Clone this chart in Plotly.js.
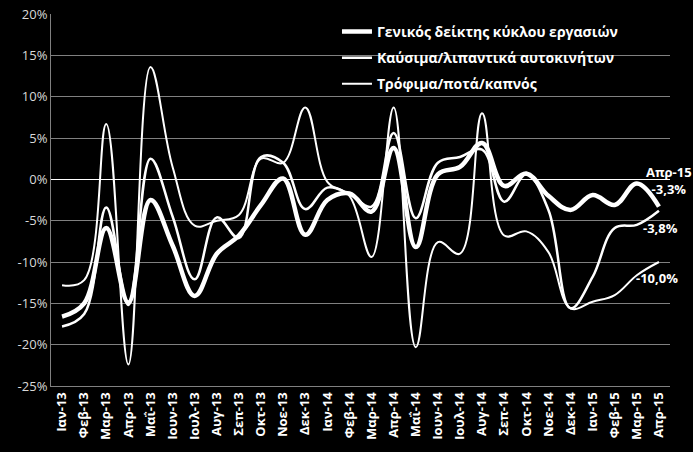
<!DOCTYPE html>
<html>
<head>
<meta charset="utf-8">
<script src="https://cdn.plot.ly/plotly-3.0.1.min.js"></script>
<style>html,body{margin:0;padding:0;background:#000;}#chart{width:693px;height:452px;}</style>
</head>
<body>
<div id="chart"></div>
<script>
const categories = ['Ιαν-13','Φεβ-13','Μαρ-13','Απρ-13','Μαΐ-13','Ιουν-13','Ιουλ-13','Αυγ-13','Σεπ-13','Οκτ-13','Νοε-13','Δεκ-13',
  'Ιαν-14','Φεβ-14','Μαρ-14','Απρ-14','Μαΐ-14','Ιουν-14','Ιουλ-14','Αυγ-14','Σεπ-14','Οκτ-14','Νοε-14','Δεκ-14',
  'Ιαν-15','Φεβ-15','Μαρ-15','Απρ-15'];
const seriesNames = ['Γενικός δείκτης κύκλου εργασιών','Καύσιμα/λιπαντικά αυτοκινήτων','Τρόφιμα/ποτά/καπνός'];
const general = [-16.6,-15.0,-5.9,-14.9,-2.5,-8.0,-14.1,-9.0,-6.8,-3.1,0.1,-6.7,
  -2.5,-1.7,-3.9,3.8,-8.2,0.6,1.5,4.4,-0.8,0.7,-2.0,-3.7,
  -1.9,-3.1,-0.5,-3.3];
const fuel = [-17.8,-16.3,-3.4,-15.2,2.5,-4.5,-12.1,-4.6,-7.1,2.7,2.0,-3.6,
  -1.0,-1.8,-3.3,5.6,-4.7,2.0,2.7,3.6,-2.7,0.6,-3.7,-15.6,
  -11.8,-5.9,-5.5,-3.8];
const food = [-12.8,-12.2,6.7,-22.4,13.6,1.5,-5.6,-5.0,-4.3,2.5,2.0,8.7,
  -0.3,-2.0,-9.4,8.7,-20.3,-7.6,-9.0,8.0,-6.8,-6.3,-8.8,-15.6,
  -14.8,-14.0,-11.6,-10.0];
const yTickVals = [-25,-20,-15,-10,-5,0,5,10,15,20];
const yTickText = ['-25%','-20%','-15%','-10%','-5%','0%','5%','10%','15%','20%'];

const FONT = 'Open Sans, Noto Sans, DejaVu Sans, sans-serif';
function fmt(v){ return v.toFixed(1).replace('.', ',') + '%'; }

const traces = [
  {x: categories, y: general, name: seriesNames[0], legendgroup: 'g1', type: 'scatter', mode: 'lines',
   line: {color: '#ffffff', width: 4.5, shape: 'spline', smoothing: 1.1}},
  {x: categories, y: fuel, name: seriesNames[1], legendgroup: 'g2', type: 'scatter', mode: 'lines',
   line: {color: '#ffffff', width: 2.5, shape: 'spline', smoothing: 1.1}},
  {x: categories, y: food, name: seriesNames[2], legendgroup: 'g3', type: 'scatter', mode: 'lines',
   line: {color: '#ffffff', width: 2, shape: 'spline', smoothing: 1.1}}
];

const last = categories.length - 1;
const layout = {
  width: 693, height: 452,
  paper_bgcolor: '#000000', plot_bgcolor: '#000000',
  margin: {l: 51, r: 23, t: 14, b: 66},
  font: {family: FONT, color: '#ffffff'},
  showlegend: true,
  legend: {x: 0.462, y: 0.995, xanchor: 'left', yanchor: 'top', bgcolor: 'rgba(0,0,0,0)',
    font: {family: FONT, size: 14, color: '#ffffff', weight: 'bold'}, tracegroupgap: 5, itemwidth: 30},
  xaxis: {type: 'category', range: [-0.5, categories.length - 0.5], tickangle: -90, showgrid: false, zeroline: false,
    showline: true, linecolor: '#808080', linewidth: 1, ticks: '',
    tickfont: {family: FONT, size: 13, color: '#ffffff', weight: 'bold'}},
  yaxis: {range: [-25, 20], tickmode: 'array', tickvals: yTickVals, ticktext: yTickText,
    showgrid: true, gridcolor: '#808080', gridwidth: 1,
    zeroline: true, zerolinecolor: '#ffffff', zerolinewidth: 1.5,
    showline: true, linecolor: '#808080', linewidth: 1, ticks: '',
    tickfont: {family: FONT, size: 13, color: '#d9d9d9'}},
  annotations: [
    {x: categories[last], y: general[last], xref: 'x', yref: 'y', showarrow: false,
     text: categories[last] + '<br>' + fmt(general[last]), xshift: 10, yshift: 26, align: 'center',
     font: {family: FONT, size: 13, color: '#ffffff', weight: 'bold'}},
    {x: categories[last], y: fuel[last], xref: 'x', yref: 'y', showarrow: false,
     text: fmt(fuel[last]), xshift: 2, yshift: -17,
     font: {family: FONT, size: 13, color: '#ffffff', weight: 'bold'}},
    {x: categories[last], y: food[last], xref: 'x', yref: 'y', showarrow: false,
     text: fmt(food[last]), xshift: -2, yshift: -16,
     font: {family: FONT, size: 13, color: '#ffffff', weight: 'bold'}}
  ]
};

Plotly.newPlot('chart', traces, layout, {displayModeBar: false, staticPlot: true});
</script>
</body>
</html>
